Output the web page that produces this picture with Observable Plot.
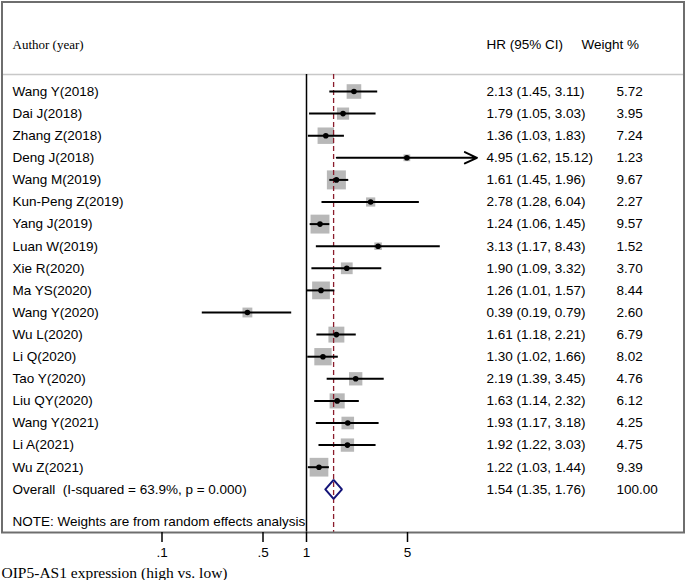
<!DOCTYPE html>
<html>
<head>
<meta charset="utf-8">
<script src="https://cdn.jsdelivr.net/npm/d3@7"></script>
<script src="https://cdn.jsdelivr.net/npm/@observablehq/plot@0.6"></script>
<style>
  html, body { margin: 0; padding: 0; background: white; }
</style>
</head>
<body>
<div id="chart"></div>
<script>
const studies = ["Wang Y(2018)", "Dai J(2018)", "Zhang Z(2018)", "Deng J(2018)", "Wang M(2019)", "Kun-Peng Z(2019)", "Yang J(2019)", "Luan W(2019)", "Xie R(2020)", "Ma YS(2020)", "Wang Y(2020)", "Wu L(2020)", "Li Q(2020)", "Tao Y(2020)", "Liu QY(2020)", "Wang Y(2021)", "Li A(2021)", "Wu Z(2021)"];
const hr     = [2.13, 1.79, 1.36, 4.95, 1.61, 2.78, 1.24, 3.13, 1.90, 1.26, 0.39, 1.61, 1.30, 2.19, 1.63, 1.93, 1.92, 1.22];
const lower  = [1.45, 1.05, 1.03, 1.62, 1.45, 1.28, 1.06, 1.17, 1.09, 1.01, 0.19, 1.18, 1.02, 1.39, 1.14, 1.17, 1.22, 1.03];
const upper  = [3.11, 3.03, 1.83, 15.12, 1.96, 6.04, 1.45, 8.43, 3.32, 1.57, 0.79, 2.21, 1.66, 3.45, 2.32, 3.18, 3.03, 1.44];
const weight = [5.72, 3.95, 7.24, 1.23, 9.67, 2.27, 9.57, 1.52, 3.70, 8.44, 2.60, 6.79, 8.02, 4.76, 6.12, 4.25, 4.75, 9.39];
const overallLabel = "Overall\u00a0 (I-squared = 63.9%, p = 0.000)";
const overall = {hr: 1.54, lo: 1.35, hi: 1.76, w: 100.00};
const xTicks = [0.1, 0.5, 1, 5];
const headers = {author: "Author (year)", hr: "HR (95% CI)", weight: "Weight %"};
const note = "NOTE: Weights are from random effects analysis";
const xTitle = "OIP5-AS1 expression (high vs. low)";
const arrowCut = 10;       // CIs beyond this get an arrow
const diamondHalf = 0.43;  // half-height of the diamond in row units

const f2 = d3.format(".2f");
const rows = studies.map((name, i) => ({
  i, name, hr: hr[i], lo: lower[i], hi: upper[i], w: weight[i],
  ci: `${f2(hr[i])} (${f2(lower[i])}, ${f2(upper[i])})`,
  wt: f2(weight[i])
}));
const oi = rows.length;
const overallRow = {i: oi, name: overallLabel,
  ci: `${f2(overall.hr)} (${f2(overall.lo)}, ${f2(overall.hi)})`, wt: f2(overall.w)};
const textRows = [...rows, overallRow];
const diamond = [
  {x: overall.lo, y: oi},
  {x: overall.hr, y: oi - diamondHalf},
  {x: overall.hi, y: oi},
  {x: overall.hr, y: oi + diamondHalf},
  {x: overall.lo, y: oi}
];

const sans = "Liberation Sans, Arial, sans-serif";
const serif = "Liberation Serif, Times New Roman, serif";

const chart = Plot.plot({
  width: 685,
  height: 580,
  marginTop: 1.5,
  marginLeft: 1.5,
  marginRight: 1.5,
  marginBottom: 48,
  style: {fontFamily: sans, fontSize: "13.5px", background: "white", color: "black"},
  x: {type: "log", domain: [0.1, 10], range: [161.5, 450.5], axis: null},
  y: {domain: [0, oi], range: [91, 488.8], axis: null},
  r: {type: "sqrt", domain: [0, 10], range: [0, 10.9]},
  marks: [
    Plot.ruleY([0], {dy: -17, stroke: "#c8c8c8", strokeWidth: 1.5}),
    Plot.dot(rows, {x: "hr", y: "i", r: "w", symbol: "square", fill: "#b8b8b8", stroke: "none"}),
    Plot.ruleX([1], {insetTop: 72.5, stroke: "black", strokeWidth: 1.5}),
    Plot.ruleX([overall.hr], {insetTop: 72.5, stroke: "#8b1c2c", strokeWidth: 1.3, strokeDasharray: "5,3"}),
    Plot.ruleY(rows.filter(d => d.hi <= arrowCut), {y: "i", x1: "lo", x2: "hi", stroke: "black", strokeWidth: 2}),
    Plot.arrow(rows.filter(d => d.hi > arrowCut), {x1: "lo", x2: "hi", y1: "i", y2: "i", stroke: "black", strokeWidth: 2, headLength: 10, headAngle: 50}),
    Plot.dot(rows, {x: "hr", y: "i", r: 2.8, fill: "black", stroke: "none"}),
    Plot.line(diamond, {x: "x", y: "y", stroke: "#141478", strokeWidth: 2, strokeLinejoin: "miter"}),
    Plot.text(textRows, {y: "i", text: "name", frameAnchor: "left", dx: 10.5, textAnchor: "start", lineAnchor: "middle"}),
    Plot.text(textRows, {y: "i", text: "ci", frameAnchor: "left", dx: 484.5, textAnchor: "start", lineAnchor: "middle"}),
    Plot.text(textRows, {y: "i", text: "wt", frameAnchor: "left", dx: 614.5, textAnchor: "start", lineAnchor: "middle"}),
    Plot.text([headers.author], {text: d => d, frameAnchor: "top-left", dx: 10.5, dy: 42.5, textAnchor: "start", lineAnchor: "middle", fontFamily: serif, fontSize: 13}),
    Plot.text([headers.hr], {text: d => d, frameAnchor: "top-left", dx: 484.5, dy: 42.5, textAnchor: "start", lineAnchor: "middle"}),
    Plot.text([headers.weight], {text: d => d, frameAnchor: "top-left", dx: 579.5, dy: 42.5, textAnchor: "start", lineAnchor: "middle"}),
    Plot.text([note], {text: d => d, frameAnchor: "bottom-left", dx: 10.5, dy: -10.5, textAnchor: "start", lineAnchor: "middle"}),
    Plot.frame({stroke: "#6e6e6e", strokeWidth: 2}),
    Plot.axisX({ticks: xTicks, tickFormat: d => String(d).replace(/^0\./, "."), tickSize: 10, tickPadding: 5, strokeWidth: 1.5, fontSize: 13.5, label: null}),
    Plot.text([xTitle], {text: d => d, frameAnchor: "bottom-left", dx: -0.5, dy: 41, textAnchor: "start", lineAnchor: "middle", fontFamily: serif, fontSize: 15.5})
  ]
});
document.getElementById("chart").appendChild(chart);
</script>
</body>
</html>
